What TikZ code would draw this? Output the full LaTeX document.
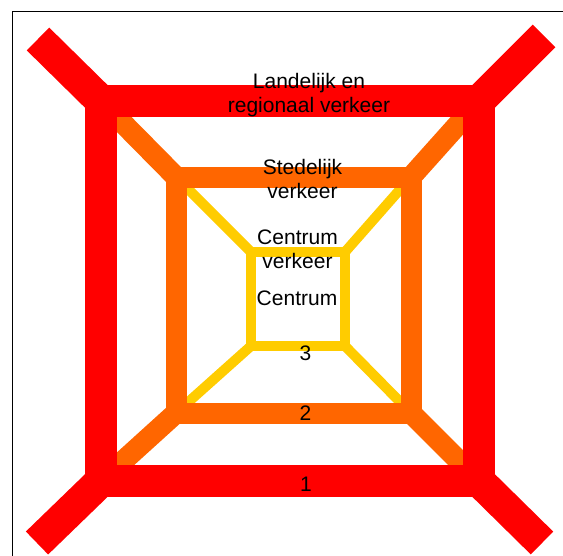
\documentclass[tikz,border=0pt]{standalone}
\usepackage{fontspec}
\setmainfont{Liberation Sans}
\definecolor{ringred}{HTML}{FF0000}
\definecolor{ringorange}{HTML}{FF6600}
\definecolor{ringyellow}{HTML}{FFCC00}
\begin{document}
\begin{tikzpicture}[x=1pt,y=-1pt,
  lbl/.style={font=\fontsize{21pt}{24pt}\selectfont, align=center, anchor=base, inner sep=0pt},
  redline/.style={draw=ringred, line width=32pt, line cap=butt, line join=miter},
  orangeline/.style={draw=ringorange, line width=21pt, line cap=butt, line join=miter},
  yellowline/.style={draw=ringyellow, line width=10pt, line cap=butt, line join=miter},
  framebox/.style={draw=black, line width=1.6pt}]
\useasboundingbox (0,0) rectangle (563,555);
\clip (0,0) rectangle (563,555);
\fill[white] (0,0) rectangle (563,555);
% corner coordinates
\coordinate (r1) at (101,101);
\coordinate (r2) at (479,101);
\coordinate (r3) at (479,481);
\coordinate (r4) at (101,481);
\coordinate (e1) at (38,39);
\coordinate (e2) at (544,36);
\coordinate (e3) at (542,543);
\coordinate (e4) at (37,543);
\coordinate (o1) at (176,177);
\coordinate (o2) at (411,177);
\coordinate (o3) at (411,413);
\coordinate (o4) at (176,413);
\coordinate (y1) at (251,252);
\coordinate (y2) at (345,252);
\coordinate (y3) at (345,346);
\coordinate (y4) at (251,346);
% frame
\draw[framebox] (12.5,11.5) rectangle (700,700);
% yellow ring
\draw[yellowline] (y1) -- (o1) (y2) -- (o2) (y3) -- (o3) (y4) -- (o4);
\draw[yellowline] (y1) -- (y2) -- (y3) -- (y4) -- cycle;
% orange ring
\draw[orangeline] (o1) -- (r1) (o2) -- (r2) (o3) -- (r3) (o4) -- (r4);
\draw[orangeline] (o1) -- (o2) -- (o3) -- (o4) -- cycle;
% red ring
\draw[redline] (r1) -- (e1) (r2) -- (e2) (r3) -- (e3) (r4) -- (e4);
\draw[redline] (r1) -- (r2) -- (r3) -- (r4) -- cycle;
% labels (base anchor = baseline of the last line)
\node[lbl] (tland) at (309,112) {Landelijk en\\regionaal verkeer};
\node[lbl] (tsted) at (302.5,198) {Stedelijk\\verkeer};
\node[lbl] (tcv) at (297.5,268) {Centrum\\verkeer};
\node[lbl] (tcen) at (297,305) {Centrum};
\node[lbl] (t3) at (305.5,360) {3};
\node[lbl] (t2) at (305.5,420) {2};
\node[lbl] (t1) at (306,491.5) {1};
\end{tikzpicture}
\end{document}
